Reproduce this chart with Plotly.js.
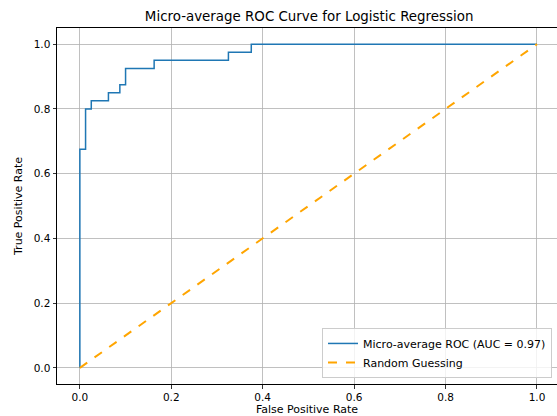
<!DOCTYPE html>
<html><head><meta charset="utf-8">
<script src="https://cdn.plot.ly/plotly-3.0.1.min.js"></script>
<style>html,body{margin:0;padding:0;overflow:hidden;background:#fff}</style>
</head><body>
<div id="chart" style="width:557px;height:416px"></div>
<script>
const fpr = [0,0,0.0125,0.0125,0.025,0.025,0.0625,0.0625,0.0875,0.0875,0.1,0.1,0.1625,0.1625,0.325,0.325,0.375,0.375,1];
const tpr = [0,0.675,0.675,0.8,0.8,0.825,0.825,0.85,0.85,0.875,0.875,0.925,0.925,0.95,0.95,0.975,0.975,1,1];
const diagX = [0,1];
const diagY = [0,1];
const aucLabel = 'Micro-average ROC (AUC = 0.97)';
const randLabel = 'Random Guessing';
const tickVals = [0,0.2,0.4,0.6,0.8,1.0];
const tickText = ['0.0','0.2','0.4','0.6','0.8','1.0'];

const fam = 'DejaVu Sans, sans-serif';
const tickFont = {family:fam, size:10.5, color:'#000'};
const labFont = {family:fam, size:11, color:'#000'};
const traces = [
  {x:fpr, y:tpr, mode:'lines', name:aucLabel, line:{color:'#1f77b4', width:1.5}},
  {x:diagX, y:diagY, mode:'lines', name:randLabel, line:{color:'#FFA500', width:2, dash:'dash'}}
];
const axisCommon = {
  showgrid:true, gridcolor:'#b0b0b0', gridwidth:0.8,
  zeroline:false, showline:true, linecolor:'#000', linewidth:1, mirror:true,
  ticks:'outside', ticklen:3.5, tickwidth:0.8, tickcolor:'#000',
  tickvals:tickVals, ticktext:tickText, tickfont:tickFont
};
const layout = {
  width:557, height:416,
  margin:{l:57, r:0, t:28, b:32},
  paper_bgcolor:'#fff', plot_bgcolor:'#fff',
  font:labFont,
  title:{text:'Micro-average ROC Curve for Logistic Regression', font:{family:fam, size:13.4, color:'#000'}, x:0.555, xanchor:'center', y:0.96, yanchor:'middle'},
  xaxis:Object.assign({}, axisCommon, {range:[-0.05,1.0438], title:{text:'False Positive Rate', font:labFont, standoff:3}}),
  yaxis:Object.assign({}, axisCommon, {range:[-0.05,1.05], title:{text:'True Positive Rate', font:labFont, standoff:8}}),
  showlegend:true,
  legend:{x:0.99, y:0.017, xanchor:'right', yanchor:'bottom', bgcolor:'rgba(255,255,255,0.8)', bordercolor:'#cccccc', borderwidth:1, font:labFont, tracegroupgap:0}
};
Plotly.newPlot('chart', traces, layout, {displayModeBar:false, staticPlot:true});
</script>
</body></html>
